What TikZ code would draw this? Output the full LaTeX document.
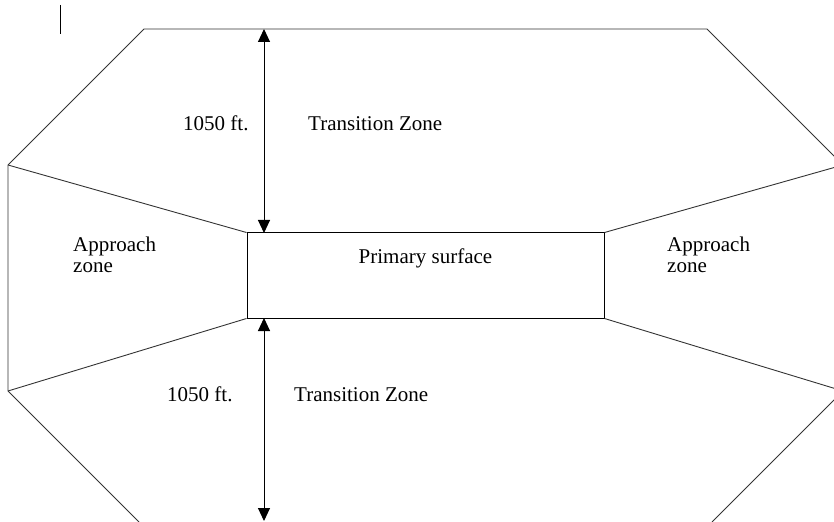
\documentclass[tikz,border=0pt]{standalone}
\usepackage{fontspec}
\setmainfont{Liberation Serif}
\usetikzlibrary{arrows.meta}
\begin{document}
\begin{tikzpicture}[x=1bp,y=-1bp,
  outline/.style={draw=black!80,line width=0.9bp},
  boxstyle/.style={draw=black,line width=1bp,minimum width=357bp,minimum height=85bp,inner sep=0pt},
  dim/.style={draw=black,line width=1bp,{Triangle[width=12bp,length=13bp]}-{Triangle[width=12bp,length=13bp]}},
  lbl/.style={inner sep=0pt,font=\fontsize{21bp}{22bp}\selectfont},
  cursorbar/.style={draw=black,line width=1bp}]
\useasboundingbox (0,0) rectangle (834,522);
\clip (0,0) rectangle (834,522);
% outline corners
\coordinate (tl) at (144,29);
\coordinate (tr) at (707,29);
\coordinate (lt) at (8,165);
\coordinate (lb) at (8,391);
\coordinate (rt) at (843,165);
\coordinate (rb) at (843,391);
\coordinate (bl) at (139,522);
\coordinate (br) at (712,522);
% primary surface
\node[boxstyle] (ps) at (425.5,275.5) {};
\node[lbl,anchor=base] (pstext) at (425.5,264) {Primary surface};
% outer octagon
\draw[outline] (lt) -- (tl) -- (tr) -- (rt) -- (rb) -- (br);
\draw[outline] (bl) -- (lb) -- (lt);
% approach lines
\draw[outline] (lt) -- (ps.north west);
\draw[outline] (lb) -- (ps.south west);
\draw[outline] (rt) -- (ps.north east);
\draw[outline] (rb) -- (ps.south east);
% dimension arrows
\coordinate (atop) at (264,29);
\coordinate (atopb) at (264,233);
\coordinate (abot) at (264,318);
\coordinate (abotb) at (264,521);
\draw[dim] (atop) -- (atopb);
\draw[dim] (abot) -- (abotb);
% labels
\node[lbl,anchor=base west] (d1) at (183,131) {1050 ft.};
\node[lbl,anchor=base west] (t1) at (308,131) {Transition Zone};
\node[lbl,anchor=base west] (d2) at (167,401) {1050 ft.};
\node[lbl,anchor=base west] (t2) at (294,401) {Transition Zone};
\node[lbl,anchor=base west] (al1) at (73,252) {Approach};
\node[lbl,anchor=base west] (al2) at (73,273) {zone};
\node[lbl,anchor=base west] (ar1) at (667,252) {Approach};
\node[lbl,anchor=base west] (ar2) at (667,273) {zone};
% cursor bar
\draw[cursorbar] (60,5) -- (60,34);
\end{tikzpicture}
\end{document}
